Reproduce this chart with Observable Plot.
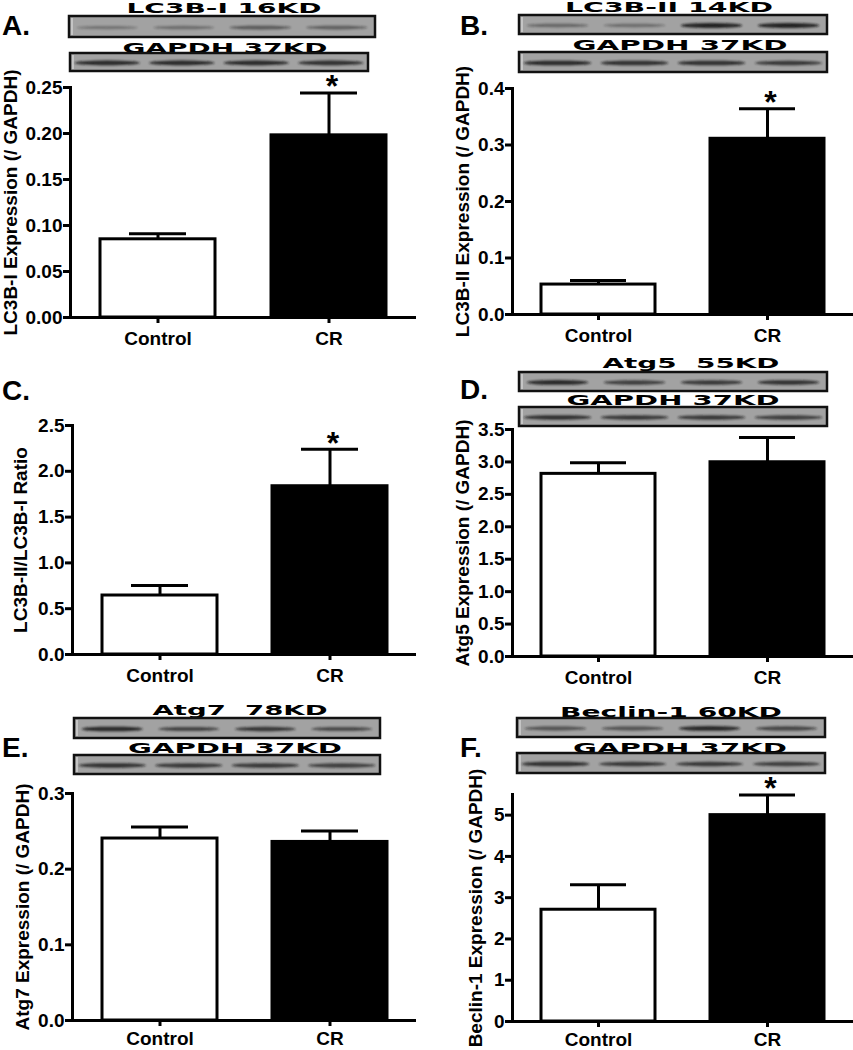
<!DOCTYPE html>
<html><head><meta charset="utf-8">
<script src="https://cdn.jsdelivr.net/npm/d3@7"></script>
<script src="https://cdn.jsdelivr.net/npm/@observablehq/plot@0.6"></script>
<style>
body{margin:0;background:#fff;}
#fig{position:relative;width:853px;height:1050px;overflow:hidden;font-family:"Liberation Sans",Arial,sans-serif;}
#fig svg{position:absolute;}
</style></head><body><div id="fig"></div>
<script>
// ---- data ----
const groups = ["Control", "CR"];
const barColors = ["white", "black"];
const panelLetters = ["A.", "B.", "C.", "D.", "E.", "F."];
const yTitles = [
  "LC3B-I Expression (/ GAPDH)",
  "LC3B-II Expression (/ GAPDH)",
  "LC3B-II/LC3B-I Ratio",
  "Atg5 Expression (/ GAPDH)",
  "Atg7 Expression (/ GAPDH)",
  "Beclin-1 Expression (/ GAPDH)"
];
const controlMeans = [0.085, 0.053, 0.644, 2.816, 0.2405, 2.708];
const controlSEM   = [0.006, 0.007, 0.109, 0.170, 0.0153, 0.607];
const crMeans      = [0.198, 0.311, 1.837, 2.995, 0.236, 5.0];
const crSEM        = [0.046, 0.053, 0.403, 0.381, 0.0145, 0.486];
const crSignificant = [true, true, true, false, false, true];
const yMax = [0.25, 0.4, 2.5, 3.5, 0.3, 5.5];
const yTicks = [
  [0, 0.05, 0.10, 0.15, 0.20, 0.25],
  [0, 0.1, 0.2, 0.3, 0.4],
  [0, 0.5, 1.0, 1.5, 2.0, 2.5],
  [0, 0.5, 1.0, 1.5, 2.0, 2.5, 3.0, 3.5],
  [0, 0.1, 0.2, 0.3],
  [0, 1, 2, 3, 4, 5]
];
const yTickFormats = [".2f", ".1f", ".1f", ".1f", ".1f", "d"];
const blotLabels = [
  ["LC3B-I 16KD", "GAPDH 37KD"],
  ["LC3B-II 14KD", "GAPDH 37KD"],
  null,
  ["Atg5  55KD", "GAPDH 37KD"],
  ["Atg7  78KD", "GAPDH 37KD"],
  ["Beclin-1 60KD", "GAPDH 37KD"]
];
const bandIntensity = [
  [[0.35, 0.4, 0.55, 0.5], [0.9, 0.9, 0.9, 0.85]],
  [[0.45, 0.4, 0.95, 0.95], [0.9, 0.85, 0.85, 0.8]],
  null,
  [[0.9, 0.75, 0.8, 0.85], [0.85, 0.8, 0.8, 0.75]],
  [[0.9, 0.7, 0.8, 0.65], [0.85, 0.8, 0.8, 0.75]],
  [[0.6, 0.6, 0.9, 0.7], [0.85, 0.8, 0.8, 0.75]]
];

// ---- layout (absolute page pixels) ----
const layout = [
  {ox: 0,   oy: 0,   w: 420, h: 350, mr: 4, pad: 8, axisX: 70,  yTop: 87,  yBottom: 317, titleX: 10,  letter: [2, 35],
   blots: [{x: 69, y: 16, w: 306, h: 21, lx: 224, ly: 13, lw: 195}, {x: 70, y: 53, w: 298, h: 18, lx: 225, ly: 53, lw: 205}]},
  {ox: 420, oy: 0,   w: 433, h: 350, mr: 0, pad: 8, axisX: 512, yTop: 88,  yBottom: 314, titleX: 462, letter: [460, 35],
   blots: [{x: 519, y: 15, w: 308, h: 19, lx: 669, ly: 12, lw: 208}, {x: 519, y: 52, w: 308, h: 20, lx: 680, ly: 50, lw: 215}]},
  {ox: 0,   oy: 340, w: 420, h: 350, mr: 4, pad: 8, axisX: 72,  yTop: 425, yBottom: 654, titleX: 20,  letter: [2, 400], blots: null},
  {ox: 420, oy: 340, w: 433, h: 350, mr: 0, pad: 8, axisX: 512, yTop: 429, yBottom: 656, titleX: 462, letter: [460, 399],
   blots: [{x: 519, y: 372, w: 308, h: 19, lx: 691, ly: 368, lw: 177}, {x: 519, y: 407, w: 308, h: 19, lx: 673, ly: 405, lw: 213}]},
  {ox: 0,   oy: 680, w: 420, h: 370, mr: 4, pad: 5, axisX: 72,  yTop: 793, yBottom: 1020, titleX: 22, letter: [2, 757],
   blots: [{x: 74, y: 718, w: 306, h: 20, lx: 240, ly: 715, lw: 175}, {x: 74, y: 755, w: 306, h: 19, lx: 235, ly: 753, lw: 214}]},
  {ox: 420, oy: 680, w: 433, h: 370, mr: 0, pad: 5, axisX: 512, yTop: 794, yBottom: 1021, titleX: 475, letter: [460, 757],
   blots: [{x: 517, y: 718, w: 308, h: 19, lx: 671, ly: 717, lw: 222}, {x: 517, y: 753, w: 308, h: 20, lx: 680, ly: 753, lw: 214}]}
];

const FONT = "'Liberation Sans', Arial, Helvetica, sans-serif";
const fig = document.getElementById("fig");

layout.forEach((L, i) => {
  const data = groups.map((g, j) => {
    const mean = j ? crMeans[i] : controlMeans[i];
    const sem = j ? crSEM[i] : controlSEM[i];
    return {group: g, mean, top: mean + sem, fill: barColors[j], sig: j === 1 && crSignificant[i]};
  });
  const chart = Plot.plot({
    width: L.w,
    height: L.h,
    marginLeft: L.axisX - L.ox,
    marginRight: L.mr,
    marginTop: L.yTop - L.oy,
    marginBottom: L.oy + L.h - L.yBottom,
    style: {background: "transparent", fontFamily: FONT, fontSize: "19px", fontWeight: "bold", color: "black", overflow: "visible"},
    x: {domain: groups, paddingInner: 0.325, paddingOuter: 0.17, label: null},
    y: {domain: [0, yMax[i]], label: null},
    color: {type: "identity"},
    marks: [
      Plot.ruleX(data, {x: "group", y1: "mean", y2: "top", stroke: "black", strokeWidth: 3}),
      Plot.tickY(data, {x: "group", y: "top", stroke: "black", strokeWidth: 3, inset: 29}),
      Plot.barY(data, {x: "group", y: "mean", fill: "fill", stroke: "black", strokeWidth: 3}),
      Plot.text(data.filter(d => d.sig), {x: "group", y: "top", text: () => "*", fontSize: 32, fontWeight: "bold", dy: -6, dx: 3, lineAnchor: "middle"}),
      Plot.axisY({ticks: yTicks[i], tickFormat: d3.format(yTickFormats[i]), tickSize: 7, tickPadding: 1, strokeWidth: 3, fontSize: 19, fontWeight: "bold", label: null}),
      Plot.axisX({tickSize: 6, tickPadding: L.pad, strokeWidth: 3, fontSize: 19, fontWeight: "bold", label: null}),
      Plot.frame({anchor: "left", stroke: "black", strokeWidth: 3}),
      Plot.ruleY([0], {stroke: "black", strokeWidth: 3, insetLeft: -5}),
      Plot.text([yTitles[i]], {frameAnchor: "left", dx: L.titleX - L.axisX, rotate: -90, fontSize: 19, fontWeight: "bold", textAnchor: "middle", lineAnchor: "middle"})
    ]
  });
  chart.style.left = L.ox + "px";
  chart.style.top = L.oy + "px";
  fig.appendChild(chart);
});

// ---- overlay: panel letters and western blot strips ----
const ov = d3.select(fig).append("svg")
  .attr("width", 853).attr("height", 1050)
  .style("left", "0px").style("top", "0px").style("pointer-events", "none");
ov.append("defs").append("filter").attr("id", "blur")
  .attr("x", "-20%").attr("y", "-100%").attr("width", "140%").attr("height", "300%")
  .append("feGaussianBlur").attr("stdDeviation", "1.3 0.8");

layout.forEach((L, i) => {
  ov.append("text").attr("x", L.letter[0]).attr("y", L.letter[1])
    .attr("font-family", FONT).attr("font-weight", "bold").attr("font-size", 28)
    .text(panelLetters[i]);
  if (!L.blots) return;
  L.blots.forEach((b, k) => {
    ov.append("text").attr("x", b.lx).attr("y", b.ly)
      .attr("text-anchor", "middle")
      .attr("font-family", "'DejaVu Sans', " + FONT).attr("font-weight", "bold").attr("font-size", 14)
      .attr("textLength", b.lw).attr("lengthAdjust", "spacingAndGlyphs")
      .style("white-space", "pre")
      .text(blotLabels[i][k]);
    ov.append("rect").attr("x", b.x).attr("y", b.y).attr("width", b.w).attr("height", b.h)
      .attr("fill", "#a2a2a2").attr("stroke", "#111").attr("stroke-width", 2.5);
    ov.append("line").attr("x1", b.x + 3).attr("x2", b.x + 3).attr("y1", b.y + 2).attr("y2", b.y + b.h - 2)
      .attr("stroke", "#e8e8e8").attr("stroke-width", 1);
    bandIntensity[i][k].forEach((s, lane) => {
      ov.append("ellipse")
        .attr("cx", b.x + b.w * (0.125 + 0.25 * lane))
        .attr("cy", b.y + b.h * 0.55)
        .attr("rx", b.w * (k ? 0.11 : 0.1))
        .attr("ry", 1.2 + s * 1.3)
        .attr("fill", "#1a1a1a").attr("opacity", s)
        .attr("filter", "url(#blur)");
    });
  });
});
</script></body></html>
